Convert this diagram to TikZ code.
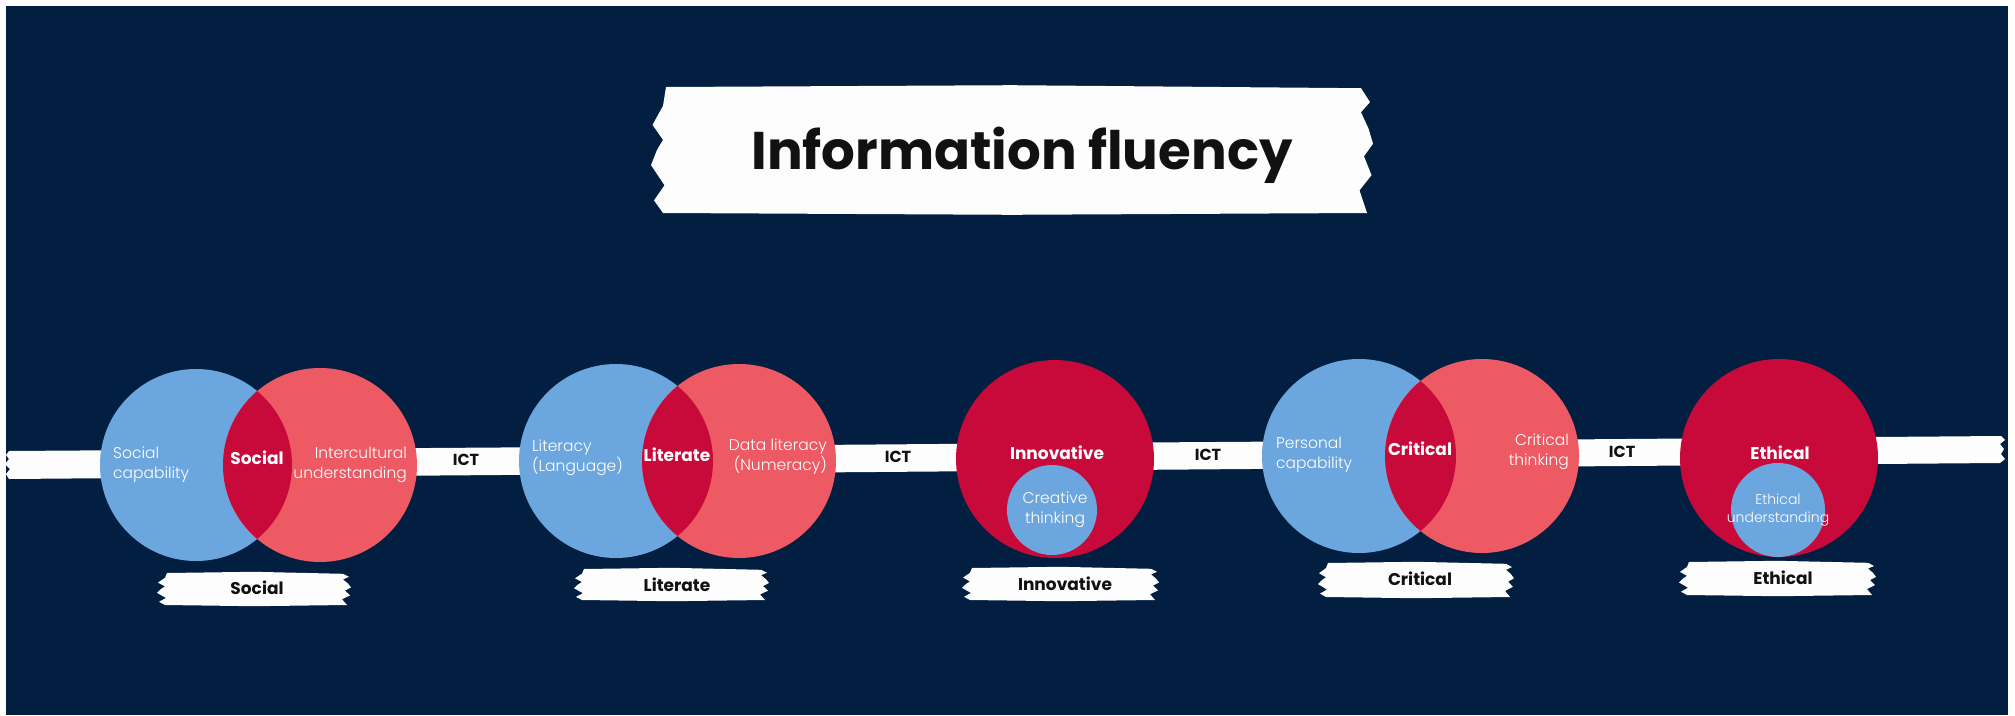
\documentclass[tikz,border=0pt]{standalone}
\usepackage{fontspec}
\setmainfont{Poppins}
\newfontfamily\lightfont{Poppins Light}
\definecolor{navy}{HTML}{021E40}
\definecolor{skyb}{HTML}{6CA6DE}
\definecolor{coral}{HTML}{EE5A64}
\definecolor{crim}{HTML}{C80A3A}
\definecolor{ink}{HTML}{111111}
\definecolor{paper}{HTML}{FDFDFD}
% brush-stroke bar: x1 y1 x2 y2 amplitude
\newcommand\brushbar[5]{%
  \fill[paper] ({#1+2*#5},#2) -- ({(#1+#3)/2},{#2-0.6*#5}) -- ({#3-1*#5},{#2+0.4*#5})
   -- ({#3+2*#5},{#2+0.12*(#4-#2)}) -- ({#3-1*#5},{#2+0.2*(#4-#2)})
   -- ({#3+1.5*#5},{#2+0.33*(#4-#2)}) -- ({#3+3*#5},{#2+0.45*(#4-#2)}) -- ({#3},{#2+0.55*(#4-#2)})
   -- ({#3+2.5*#5},{#2+0.7*(#4-#2)}) -- ({#3-1.5*#5},{#2+0.82*(#4-#2)})
   -- ({#3+1*#5},#4) -- ({(#1+#3)/2},{#4+0.6*#5}) -- ({#1+1*#5},#4)
   -- ({#1-2*#5},{#2+0.9*(#4-#2)}) -- ({#1+1.5*#5},{#2+0.78*(#4-#2)})
   -- ({#1-3*#5},{#2+0.62*(#4-#2)}) -- ({#1-1*#5},{#2+0.5*(#4-#2)}) -- ({#1+1*#5},{#2+0.42*(#4-#2)})
   -- ({#1-2.5*#5},{#2+0.3*(#4-#2)}) -- ({#1+1*#5},{#2+0.15*(#4-#2)}) -- cycle;}
\tikzset{
  disc/.style={circle, inner sep=0pt, minimum size=#1},
  lighttxt/.style={text=white, inner sep=0pt, font=\lightfont\fontsize{15.5}{20}\selectfont},
  boldwhite/.style={text=white, inner sep=0pt, font=\bfseries\fontsize{17}{20}\selectfont},
  barlabel/.style={text=ink, inner sep=0pt, font=\bfseries\fontsize{17}{20}\selectfont},
  ictlabel/.style={text=ink, inner sep=0pt, font=\bfseries\fontsize{16}{19}\selectfont},
}
\begin{document}
\begin{tikzpicture}[x=1pt,y=-1pt]
\useasboundingbox (0,0) rectangle (2015,715);
\fill[white] (0,0) rectangle (2015,715);
\fill[navy] (6,6) rectangle (2008,715);

% title
\brushbar{660}{87}{1364}{213}{3}
\node[text=ink, inner sep=0pt, anchor=base, font=\bfseries\fontsize{53}{60}\selectfont] (title) at (1022,169) {Information fluency};

% the ICT strip
\fill[paper] (9,451) -- (500,447.5) -- (1000,443.5) -- (1500,440) -- (2001,436)
  -- (2005,440) -- (2000,444) -- (2004,449) -- (2001,454) -- (2005,459) -- (2000,463)
  -- (1500,467) -- (1000,471) -- (500,475) -- (9,479) -- (6,474) -- (10,469) -- (5,464) -- (9,459) -- (6,455) -- cycle;

% ---- Social ----
\node[disc=192pt, fill=skyb] (sa) at (196,465) {};
\node[disc=194pt, fill=coral] (sb) at (320,465) {};
\begin{scope}
  \clip (196,465) circle[radius=96];
  \fill[crim] (320,465) circle[radius=97];
\end{scope}
\node[lighttxt, anchor=west, align=left] (sat) at (113,465) {Social\\capability};
\node[boldwhite] (sct) at (257,458) {Social};
\node[lighttxt, anchor=east, align=right] (sbt) at (407,465) {Intercultural\\understanding};

% ---- Literate ----
\node[disc=194pt, fill=skyb] (la) at (616,461) {};
\node[disc=194pt, fill=coral] (lb) at (739,461) {};
\begin{scope}
  \clip (616,461) circle[radius=97];
  \fill[crim] (739,461) circle[radius=97];
\end{scope}
\node[lighttxt, anchor=west, align=left] (lat) at (532,458) {Literacy\\(Language)};
\node[boldwhite] (lct) at (677,455) {Literate};
\node[lighttxt, anchor=east, align=right] (lbt) at (827,457) {Data literacy\\(Numeracy)};

% ---- Innovative ----
\node[disc=198pt, fill=crim] (ia) at (1055,459) {};
\node[disc=90pt, fill=skyb] (ib) at (1052,510) {};
\node[boldwhite] (iat) at (1057,453) {Innovative};
\node[lighttxt, align=center] (ibt) at (1055,510) {Creative\\thinking};

% ---- Critical ----
\node[disc=194pt, fill=skyb] (ca) at (1359,456) {};
\node[disc=194pt, fill=coral] (cb) at (1482,456) {};
\begin{scope}
  \clip (1359,456) circle[radius=97];
  \fill[crim] (1482,456) circle[radius=97];
\end{scope}
\node[lighttxt, anchor=west, align=left] (cat) at (1276,455) {Personal\\capability};
\node[boldwhite] (cct) at (1420,449) {Critical};
\node[lighttxt, anchor=east, align=right] (cbt) at (1569,452) {Critical\\thinking};

% ---- Ethical ----
\node[disc=198pt, fill=crim] (ea) at (1779,458) {};
\node[disc=94pt, fill=skyb] (eb) at (1778,510) {};
\node[boldwhite] (eat) at (1780,453) {Ethical};
\node[lighttxt, align=center, font=\lightfont\fontsize{14}{18}\selectfont] (ebt) at (1778,510) {Ethical\\understanding};

% ICT labels
\node[ictlabel] (ict1) at (466,460) {ICT};
\node[ictlabel] (ict2) at (898,457) {ICT};
\node[ictlabel] (ict3) at (1208,455) {ICT};
\node[ictlabel] (ict4) at (1622,452) {ICT};

% bottom labels
\brushbar{163}{573}{345}{605}{2}
\node[barlabel] (bl1) at (257,588) {Social};
\brushbar{580}{569}{763}{600}{2}
\node[barlabel] (bl2) at (677,585) {Literate};
\brushbar{968}{568}{1153}{600}{2}
\node[barlabel] (bl3) at (1065,584) {Innovative};
\brushbar{1324}{563}{1508}{597}{2}
\node[barlabel] (bl4) at (1420,579) {Critical};
\brushbar{1685}{562}{1870}{595}{2}
\node[barlabel] (bl5) at (1783,578) {Ethical};
\end{tikzpicture}
\end{document}
